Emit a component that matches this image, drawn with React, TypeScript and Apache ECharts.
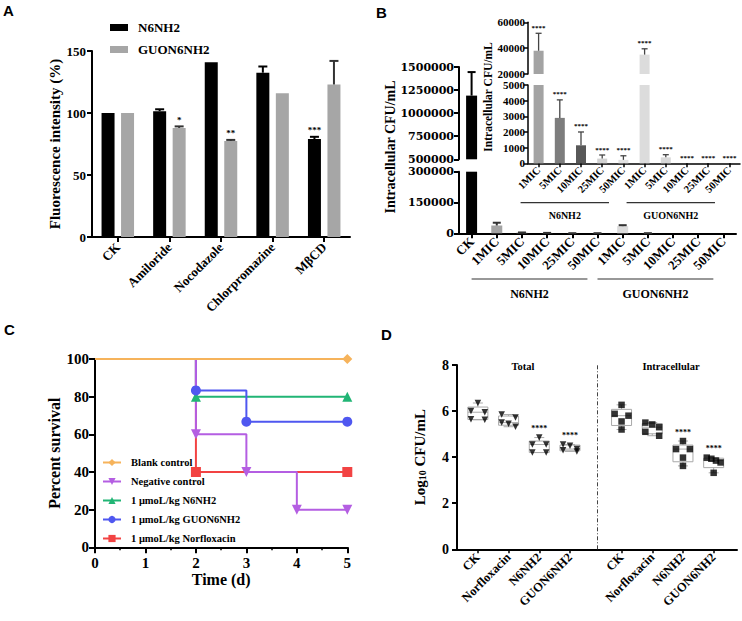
import React, { useEffect, useRef } from 'react';
import * as echarts from 'echarts';

const SERIF = '"Liberation Serif", "Times New Roman", Times, serif';
const WIDE_SERIF = '"DejaVu Serif", "Liberation Serif", serif';
const SANS = '"Liberation Sans", Arial, sans-serif';

// ---------- Panel A data ----------
const A_CATEGORIES = ['CK', 'Amiloride', 'Nocodazole', 'Chlorpromazine', 'MβCD'];
const A_SERIES_NAMES = ['N6NH2', 'GUON6NH2'];
const A_N6NH2 = [100, 101.5, 141, 132.5, 79];
const A_N6NH2_ERR = [0, 1.5, 0, 5, 1.8];
const A_N6NH2_SIG = ['', '', '', '', '***'];
const A_GUON6NH2 = [100, 88, 77.5, 116, 123];
const A_GUON6NH2_ERR = [0, 1.2, 0.8, 0, 19];
const A_GUON6NH2_SIG = ['', '*', '**', '', ''];
const A_Y_TICKS = [0, 50, 100, 150];

// ---------- Panel B data ----------
const B_CATEGORIES = ['CK', '1MIC', '5MIC', '10MIC', '25MIC', '50MIC', '1MIC', '5MIC', '10MIC', '25MIC', '50MIC'];
const B_GROUPS = [
  { name: 'N6NH2', from: 1, to: 5 },
  { name: 'GUON6NH2', from: 6, to: 10 },
];
const B_VALUES = [1190000, 38000, 2900, 1150, 300, 220, 35000, 380, 0, 0, 0];
const B_ERR = [255000, 13500, 1150, 850, 230, 260, 4500, 170, 0, 0, 0];
const B_INSET_SIG = ['', '****', '****', '****', '****', '****', '****', '****', '****', '****', '****'];
const B_MAIN_UPPER_TICKS = [500000, 750000, 1000000, 1250000, 1500000];
const B_MAIN_LOWER_TICKS = [0, 150000, 300000];
const B_INSET_UPPER_TICKS = [20000, 40000, 60000];
const B_INSET_LOWER_TICKS = [0, 1000, 2000, 3000, 4000, 5000];

// ---------- Panel C data ----------
const C_NAMES = ['Blank control', 'Negative control', '1 μmoL/kg N6NH2', '1 μmoL/kg GUON6NH2', '1 μmoL/kg Norfloxacin'];
const C_BLANK = [[0, 100], [5, 100]];
const C_NEGATIVE = [[0, 100], [2, 60], [3, 40], [4, 20], [5, 20]];
const C_N6NH2 = [[0, 100], [2, 80], [5, 80]];
const C_GUON6NH2 = [[0, 100], [2, 83.3], [3, 66.7], [5, 66.7]];
const C_NORFLOXACIN = [[0, 100], [2, 40], [5, 40]];
const C_X_TICKS = [0, 1, 2, 3, 4, 5];
const C_Y_TICKS = [0, 20, 40, 60, 80, 100];

// ---------- Panel D data ----------
const D_CATEGORIES = ['CK', 'Norfloxacin', 'N6NH2', 'GUON6NH2'];
const D_SECTIONS = ['Total', 'Intracellular'];
const D_TOTAL = [
  [6.35, 6.0, 5.95, 5.65, 5.62],
  [5.85, 5.72, 5.5, 5.45, 5.32],
  [4.85, 4.55, 4.55, 4.2, 4.2],
  [4.55, 4.5, 4.35, 4.3, 4.25],
];
const D_INTRACELLULAR = [
  [6.27, 5.88, 5.8, 5.55, 5.2],
  [5.5, 5.42, 5.3, 5.1, 4.93],
  [4.7, 4.35, 4.35, 3.98, 3.62],
  [3.98, 3.93, 3.85, 3.77, 3.32],
];
const D_TOTAL_SIG = ['', '', '****', '****'];
const D_INTRA_SIG = ['', '', '****', '****'];
const D_Y_TICKS = [0, 2, 4, 6, 8];

// ---------- layout constants ----------
const D_SECTION_START = [0.68, 5.36];
const D_X_MAX = 9.12;
const D_DIVIDER = 4.56;

const bold = (size: number, family = SERIF) => ({
  fontFamily: family,
  fontWeight: 'bold' as const,
  fontSize: size,
  color: '#000',
});
const line = (w = 2) => ({ show: true, lineStyle: { color: '#000', width: w } });
const tick = (len = 5, w = 2, extra: any = {}) => ({ show: true, length: len, lineStyle: { color: '#000', width: w }, ...extra });
const plain = (v: number) => String(v);

function valueAxis(gridIndex: number, ticks: number[], labelSize: number, w = 2, extra: any = {}) {
  return {
    gridIndex,
    type: 'value',
    min: ticks[0],
    max: ticks[ticks.length - 1],
    interval: ticks[1] - ticks[0],
    splitLine: { show: false },
    axisLine: line(w),
    axisTick: tick(5, w),
    axisLabel: { ...bold(labelSize), margin: 6, formatter: plain },
    ...extra,
  };
}

function errorSeries(o: {
  xi: number; yi: number; values: number[]; errs: number[]; sigs: string[];
  range: [number, number]; offset: number; cap: number; color: string; width: number;
  starSize: number;
}) {
  const items: { i: number; v: number; top: number; sig: string }[] = [];
  o.values.forEach((v, i) => {
    const top = v + (o.errs[i] || 0);
    if (v >= o.range[0] && top <= o.range[1]) items.push({ i, v, top, sig: o.sigs[i] || '' });
  });
  return {
    type: 'custom',
    xAxisIndex: o.xi,
    yAxisIndex: o.yi,
    silent: true,
    z: 5,
    data: items.map((it) => [it.i, it.v, it.top]),
    encode: { x: 0, y: [1, 2] },
    renderItem: (params: any, api: any) => {
      const it = items[params.dataIndex];
      const base = api.coord([it.i, it.v]);
      const top = api.coord([it.i, it.top]);
      const x = base[0] + o.offset;
      const children: any[] = [];
      if (it.top > it.v) {
        children.push({ type: 'line', shape: { x1: x, y1: base[1], x2: x, y2: top[1] }, style: { stroke: o.color, lineWidth: o.width } });
        children.push({ type: 'line', shape: { x1: x - o.cap, y1: top[1], x2: x + o.cap, y2: top[1] }, style: { stroke: o.color, lineWidth: o.width } });
      }
      if (it.sig) {
        children.push({
          type: 'text', x, y: top[1] - 2,
          style: { text: it.sig, fill: '#000', fontFamily: SERIF, fontWeight: 'bold', fontSize: o.starSize, align: 'center', verticalAlign: 'bottom' },
        });
      }
      return { type: 'group', children };
    },
  };
}

function groupSeries(xi: number, yi: number, groups: { name: string; from: number; to: number }[],
  startBand: number, endBand: number, lineDy: number, textDy: number, fontSize: number) {
  return {
    type: 'custom',
    xAxisIndex: xi,
    yAxisIndex: yi,
    silent: true,
    clip: false,
    data: groups.map((g) => [g.from, g.to, 0]),
    encode: { x: [0, 1], y: 2 },
    renderItem: (params: any, api: any) => {
      const g = groups[params.dataIndex];
      const band = api.coord([1, 0])[0] - api.coord([0, 0])[0];
      const a = api.coord([g.from, 0]);
      const b = api.coord([g.to, 0]);
      const x1 = a[0] + startBand * band;
      const x2 = b[0] + endBand * band;
      const y = a[1] + lineDy;
      return {
        type: 'group',
        children: [
          { type: 'line', shape: { x1, y1: y, x2, y2: y }, style: { stroke: '#333', lineWidth: 1.2 } },
          {
            type: 'text', x: (x1 + x2) / 2, y: a[1] + textDy,
            style: { text: g.name, fill: '#000', fontFamily: SERIF, fontWeight: 'bold', fontSize, align: 'center', verticalAlign: 'middle' },
          },
        ],
      };
    },
  };
}

function quantile(sorted: number[], p: number) {
  const pos = Math.min(Math.max((sorted.length + 1) * p - 1, 0), sorted.length - 1);
  const lo = Math.floor(pos);
  const hi = Math.ceil(pos);
  return sorted[lo] + (sorted[hi] - sorted[lo]) * (pos - lo);
}

// spread points of similar value side by side (dot-plot layout)
function swarm(values: number[], threshold = 0.21, spread = 0.45) {
  const order = values.map((_, i) => i).sort((a, b) => values[b] - values[a]);
  const offsets = new Array(values.length).fill(0);
  let cluster: number[] = [];
  const flush = () => {
    const n = cluster.length;
    cluster.forEach((k, j) => { offsets[k] = n > 1 ? (j / (n - 1) - 0.5) * spread : 0; });
    cluster = [];
  };
  for (const k of order) {
    if (cluster.length && values[cluster[0]] - values[k] > threshold) flush();
    cluster.push(k);
  }
  flush();
  return offsets;
}

function buildOption() {
  const grid = [
    { left: 92, top: 51, width: 258, height: 186 },        // 0 A
    { left: 459, top: 67, width: 277, height: 92.3 },      // 1 B upper
    { left: 459, top: 171.7, width: 277, height: 61.6 },   // 2 B lower
    { left: 528, top: 22.3, width: 212, height: 51.7 },    // 3 inset upper
    { left: 528, top: 85, width: 212, height: 78.3 },      // 4 inset lower
    { left: 95, top: 359, width: 252.3, height: 188.3 },   // 5 C
    { left: 457, top: 365, width: 280, height: 184.3 },    // 6 D
  ];

  const insetCats = B_CATEGORIES.slice(1);
  const insetValues = B_VALUES.slice(1);
  const insetErr = B_ERR.slice(1);
  const insetSig = B_INSET_SIG.slice(1);
  const insetGroups = B_GROUPS.map((g) => ({ ...g, from: g.from - 1, to: g.to - 1 }));

  const mainColors = ['#000000', '#a3a3a3', '#7d7d7d', '#585858', '#d2d2d2', '#e2e2e2', '#dcdcdc', '#d8d8d8', '#e0e0e0', '#e0e0e0', '#e0e0e0'];
  const insetColors = mainColors.slice(1);

  const dPositions: number[] = [];
  const dLabels: string[] = [];
  D_SECTIONS.forEach((_, s) => D_CATEGORIES.forEach((c, i) => { dPositions.push(D_SECTION_START[s] + i); dLabels.push(c); }));

  const dSets = [D_TOTAL, D_INTRACELLULAR];
  const dSigs = [D_TOTAL_SIG, D_INTRA_SIG];
  const boxData: number[][] = [];
  const starItems: { x: number; y: number; sig: string }[] = [];
  const scatterData: number[][][] = [[], []];
  dSets.forEach((set, s) => {
    set.forEach((vals, i) => {
      const pos = D_SECTION_START[s] + i;
      const sorted = [...vals].sort((a, b) => a - b);
      boxData.push([pos, sorted[0], quantile(sorted, 0.25), quantile(sorted, 0.5), quantile(sorted, 0.75), sorted[sorted.length - 1]]);
      const offs = swarm(vals);
      vals.forEach((v, k) => scatterData[s].push([pos + offs[k], v]));
      if (dSigs[s][i]) starItems.push({ x: pos, y: sorted[sorted.length - 1], sig: dSigs[s][i] });
    });
  });

  const cStyles = [
    { name: C_NAMES[0], data: C_BLANK, color: '#f6b35b', symbol: 'diamond', rotate: 0, size: 10 },
    { name: C_NAMES[1], data: C_NEGATIVE, color: '#b45ee2', symbol: 'triangle', rotate: 180, size: 10 },
    { name: C_NAMES[2], data: C_N6NH2, color: '#21b575', symbol: 'triangle', rotate: 0, size: 10 },
    { name: C_NAMES[3], data: C_GUON6NH2, color: '#4f57f0', symbol: 'circle', rotate: 0, size: 10 },
    { name: C_NAMES[4], data: C_NORFLOXACIN, color: '#f24343', symbol: 'rect', rotate: 0, size: 10 },
  ];
  const drawOrder = [4, 2, 3, 1, 0];

  const series: any[] = [
    // ---- A ----
    { type: 'bar', name: A_SERIES_NAMES[0], xAxisIndex: 0, yAxisIndex: 0, data: A_N6NH2, barWidth: 13, barGap: '50%', itemStyle: { color: '#000' }, silent: true },
    { type: 'bar', name: A_SERIES_NAMES[1], xAxisIndex: 0, yAxisIndex: 0, data: A_GUON6NH2, barWidth: 13, barGap: '50%', itemStyle: { color: '#a6a6a6' }, silent: true },
    errorSeries({ xi: 0, yi: 0, values: A_N6NH2, errs: A_N6NH2_ERR, sigs: A_N6NH2_SIG, range: [0, 150], offset: -9.75, cap: 4.5, color: '#000', width: 2, starSize: 9 }),
    errorSeries({ xi: 0, yi: 0, values: A_GUON6NH2, errs: A_GUON6NH2_ERR, sigs: A_GUON6NH2_SIG, range: [0, 150], offset: 9.75, cap: 4.5, color: '#333', width: 2, starSize: 9 }),

    // ---- B main ----
    {
      type: 'bar', name: 'B upper', xAxisIndex: 1, yAxisIndex: 1, barWidth: 11, silent: true,
      data: B_VALUES.map((v, i) => (v >= B_MAIN_UPPER_TICKS[0] ? { value: v, itemStyle: { color: mainColors[i] } } : '-')),
    },
    errorSeries({ xi: 1, yi: 1, values: B_VALUES, errs: B_ERR, sigs: [], range: [B_MAIN_UPPER_TICKS[0], B_MAIN_UPPER_TICKS[4]], offset: 0, cap: 4, color: '#000', width: 2, starSize: 7 }),
    {
      type: 'bar', name: 'B lower', xAxisIndex: 2, yAxisIndex: 2, barWidth: 11, silent: true,
      data: B_VALUES.map((v, i) => ({ value: v, itemStyle: { color: mainColors[i] } })),
    },
    errorSeries({ xi: 2, yi: 2, values: B_VALUES, errs: B_ERR, sigs: [], range: [0, B_MAIN_LOWER_TICKS[2]], offset: 0, cap: 4, color: '#333', width: 2, starSize: 7 }),
    groupSeries(2, 2, B_GROUPS, -1.0, -0.4, 45.7, 61, 12),

    // ---- B inset ----
    {
      type: 'bar', name: 'Inset upper', xAxisIndex: 3, yAxisIndex: 3, barWidth: 10, silent: true,
      data: insetValues.map((v, i) => (v >= B_INSET_UPPER_TICKS[0] ? { value: v, itemStyle: { color: insetColors[i] } } : '-')),
    },
    errorSeries({ xi: 3, yi: 3, values: insetValues, errs: insetErr, sigs: insetSig, range: [B_INSET_UPPER_TICKS[0], B_INSET_UPPER_TICKS[2]], offset: 0, cap: 3, color: '#444', width: 1.3, starSize: 7 }),
    {
      type: 'bar', name: 'Inset lower', xAxisIndex: 4, yAxisIndex: 4, barWidth: 10, silent: true,
      data: insetValues.map((v, i) => ({ value: v, itemStyle: { color: insetColors[i] } })),
    },
    errorSeries({ xi: 4, yi: 4, values: insetValues, errs: insetErr, sigs: insetSig, range: [0, B_INSET_LOWER_TICKS[5]], offset: 0, cap: 3, color: '#444', width: 1.3, starSize: 7 }),
    groupSeries(4, 4, insetGroups, -0.85, -0.68, 39.4, 52, 10),

    // ---- C ----
    ...drawOrder.map((k) => {
      const st = cStyles[k];
      return {
        type: 'line', name: st.name, xAxisIndex: 5, yAxisIndex: 5, step: 'end', silent: true,
        color: st.color, lineStyle: { color: st.color, width: 2 },
        itemStyle: { color: st.color },
        symbol: st.symbol, symbolSize: st.size, symbolRotate: st.rotate, showAllSymbol: true,
        data: st.data.map((p, j) => (j === 0 ? { value: p, symbol: 'none' } : { value: p })),
      };
    }),

    // ---- D ----
    {
      type: 'custom', xAxisIndex: 6, yAxisIndex: 6, silent: true,
      data: boxData, encode: { x: 0, y: [1, 2, 3, 4, 5] },
      renderItem: (params: any, api: any) => {
        const d = boxData[params.dataIndex];
        const x = api.coord([d[0], d[3]])[0];
        const y = d.map((v) => api.coord([d[0], v])[1]);
        const half = 10, cap = 5;
        const st = { stroke: '#a9a9a9', lineWidth: 1 };
        return {
          type: 'group',
          children: [
            { type: 'line', shape: { x1: x, y1: y[4], x2: x, y2: y[5] }, style: st },
            { type: 'line', shape: { x1: x, y1: y[2], x2: x, y2: y[1] }, style: st },
            { type: 'line', shape: { x1: x - cap, y1: y[5], x2: x + cap, y2: y[5] }, style: st },
            { type: 'line', shape: { x1: x - cap, y1: y[1], x2: x + cap, y2: y[1] }, style: st },
            { type: 'rect', shape: { x: x - half, y: y[4], width: 2 * half, height: y[2] - y[4] }, style: { ...st, fill: 'none' } },
            { type: 'line', shape: { x1: x - half, y1: y[3], x2: x + half, y2: y[3] }, style: st },
          ],
        };
      },
    },
    {
      type: 'scatter', name: 'D total', xAxisIndex: 6, yAxisIndex: 6, silent: true,
      symbol: 'triangle', symbolRotate: 180, symbolSize: 6.5, itemStyle: { color: '#000' },
      data: scatterData[0],
      markLine: {
        silent: true, symbol: ['none', 'none'], label: { show: false },
        lineStyle: { color: '#444', width: 1, type: [4, 2, 1, 2] },
        data: [{ xAxis: D_DIVIDER }],
      },
    },
    {
      type: 'scatter', name: 'D intracellular', xAxisIndex: 6, yAxisIndex: 6, silent: true,
      symbol: 'rect', symbolSize: 6.5, itemStyle: { color: '#000' },
      data: scatterData[1],
    },
    {
      type: 'custom', xAxisIndex: 6, yAxisIndex: 6, silent: true,
      data: starItems.map((s) => [s.x, s.y]), encode: { x: 0, y: 1 },
      renderItem: (params: any, api: any) => {
        const s = starItems[params.dataIndex];
        const p = api.coord([s.x, s.y]);
        return {
          type: 'text', x: p[0], y: p[1] - 5,
          style: { text: s.sig, fill: '#000', fontFamily: SERIF, fontWeight: 'bold', fontSize: 8, align: 'center', verticalAlign: 'bottom' },
        };
      },
    },
  ];

  const xAxis: any[] = [
    {
      gridIndex: 0, type: 'category', data: A_CATEGORIES, axisLine: line(2),
      axisTick: tick(5, 2, { alignWithLabel: true }),
      axisLabel: { ...bold(13), rotate: 45, margin: 8, interval: 0 },
    },
    { gridIndex: 1, type: 'category', data: B_CATEGORIES, show: false },
    {
      gridIndex: 2, type: 'category', data: B_CATEGORIES, axisLine: line(2),
      axisTick: tick(5, 2, { alignWithLabel: true }),
      axisLabel: { ...bold(13), rotate: 45, margin: 6, interval: 0 },
    },
    { gridIndex: 3, type: 'category', data: insetCats, show: false },
    {
      gridIndex: 4, type: 'category', data: insetCats, axisLine: line(1.5),
      axisTick: tick(4, 1.5, { alignWithLabel: true }),
      axisLabel: { ...bold(10.5), rotate: 45, margin: 5, interval: 0 },
    },
    {
      gridIndex: 5, type: 'value', min: C_X_TICKS[0], max: C_X_TICKS[C_X_TICKS.length - 1], interval: C_X_TICKS[1] - C_X_TICKS[0],
      splitLine: { show: false }, axisLine: line(2), axisTick: tick(6, 2),
      minorTick: { show: true, splitNumber: 2, length: 3, lineStyle: { color: '#000', width: 1.5 } },
      axisLabel: { ...bold(15), margin: 8 },
      name: 'Time (d)', nameLocation: 'middle', nameGap: 24, nameTextStyle: bold(16),
    },
    {
      gridIndex: 6, type: 'value', min: 0, max: D_X_MAX, splitLine: { show: false },
      axisLine: line(2),
      axisTick: { show: true, length: 4, lineStyle: { color: '#000', width: 1.5 }, customValues: dPositions },
      axisLabel: {
        ...bold(12.5), rotate: 45, margin: 6, customValues: dPositions,
        formatter: (val: number) => {
          const k = dPositions.findIndex((p) => Math.abs(p - val) < 1e-6);
          return k >= 0 ? dLabels[k] : '';
        },
      },
    },
  ];

  const bMainLabel = { ...bold(11, WIDE_SERIF), lineHeight: 11, margin: 5, formatter: plain };

  const yAxis: any[] = [
    valueAxis(0, A_Y_TICKS, 13, 2, {
      name: 'Fluorescence intensity (%)', nameLocation: 'middle', nameGap: 25, nameTextStyle: bold(15),
    }),
    valueAxis(1, B_MAIN_UPPER_TICKS, 11, 2, { axisLabel: bMainLabel }),
    valueAxis(2, B_MAIN_LOWER_TICKS, 11, 2, { axisLabel: bMainLabel }),
    valueAxis(3, B_INSET_UPPER_TICKS, 11, 1.5, { axisTick: tick(4, 1.5), axisLabel: { ...bold(11), margin: 3, formatter: plain } }),
    valueAxis(4, B_INSET_LOWER_TICKS, 11, 1.5, { axisTick: tick(4, 1.5), axisLabel: { ...bold(11), margin: 3, formatter: plain } }),
    valueAxis(5, C_Y_TICKS, 15, 2, {
      axisTick: tick(6, 2),
      name: 'Percent survival', nameLocation: 'middle', nameGap: 33, nameTextStyle: bold(16),
    }),
    valueAxis(6, D_Y_TICKS, 14, 2, {
      axisLabel: { ...bold(14), margin: 8, formatter: plain },
      name: '{a|Log}{s|10}{a| CFU/mL}', nameLocation: 'middle', nameGap: 30,
      nameTextStyle: { rich: { a: bold(15), s: { ...bold(10), verticalAlign: 'bottom' } } },
    }),
  ];

  const graphicText = (text: string, x: number, y: number, size: number, family = SERIF, rotation = 0, align = 'center', va = 'middle') => ({
    type: 'text', x, y, rotation, silent: true,
    style: { text, fill: '#000', fontFamily: family, fontWeight: 'bold', fontSize: size, align, verticalAlign: va },
  });

  return {
    animation: false,
    backgroundColor: '#ffffff',
    textStyle: { fontFamily: SERIF },
    grid,
    xAxis,
    yAxis,
    legend: [
      {
        data: A_SERIES_NAMES, orient: 'vertical', left: 105, top: 16, itemWidth: 18, itemHeight: 7, itemGap: 9,
        icon: 'rect', selectedMode: false, textStyle: { ...bold(13), padding: [0, 0, 0, 5] },
      },
      {
        data: C_NAMES, orient: 'vertical', left: 97, top: 452, itemWidth: 18, itemHeight: 9, itemGap: 8,
        selectedMode: false, textStyle: { ...bold(10.5), padding: [0, 0, 0, 5] },
      },
    ],
    graphic: [
      graphicText('A', 3, 3, 15, SANS, 0, 'left', 'top'),
      graphicText('B', 376, 5, 15, SANS, 0, 'left', 'top'),
      graphicText('C', 4, 322, 15, SANS, 0, 'left', 'top'),
      graphicText('D', 381, 327, 15, SANS, 0, 'left', 'top'),
      graphicText('Intracellular CFU/mL', 390, 147, 14, SERIF, Math.PI / 2),
      graphicText('Intracellular CFU/mL', 488, 97, 11.5, SERIF, Math.PI / 2),
      graphicText(D_SECTIONS[0], 523, 366, 10.5),
      graphicText(D_SECTIONS[1], 671, 366, 10.5),
    ],
    series,
  };
}

export default function App() {
  const ref = useRef<HTMLDivElement>(null);
  useEffect(() => {
    if (!ref.current) return;
    const chart = echarts.init(ref.current, null, { renderer: 'svg' });
    chart.setOption(buildOption() as any);
    return () => chart.dispose();
  }, []);
  return (
    <div
      ref={ref}
      style={{ position: 'absolute', left: 0, top: 0, width: 742, height: 621, background: '#fff' }}
    />
  );
}
